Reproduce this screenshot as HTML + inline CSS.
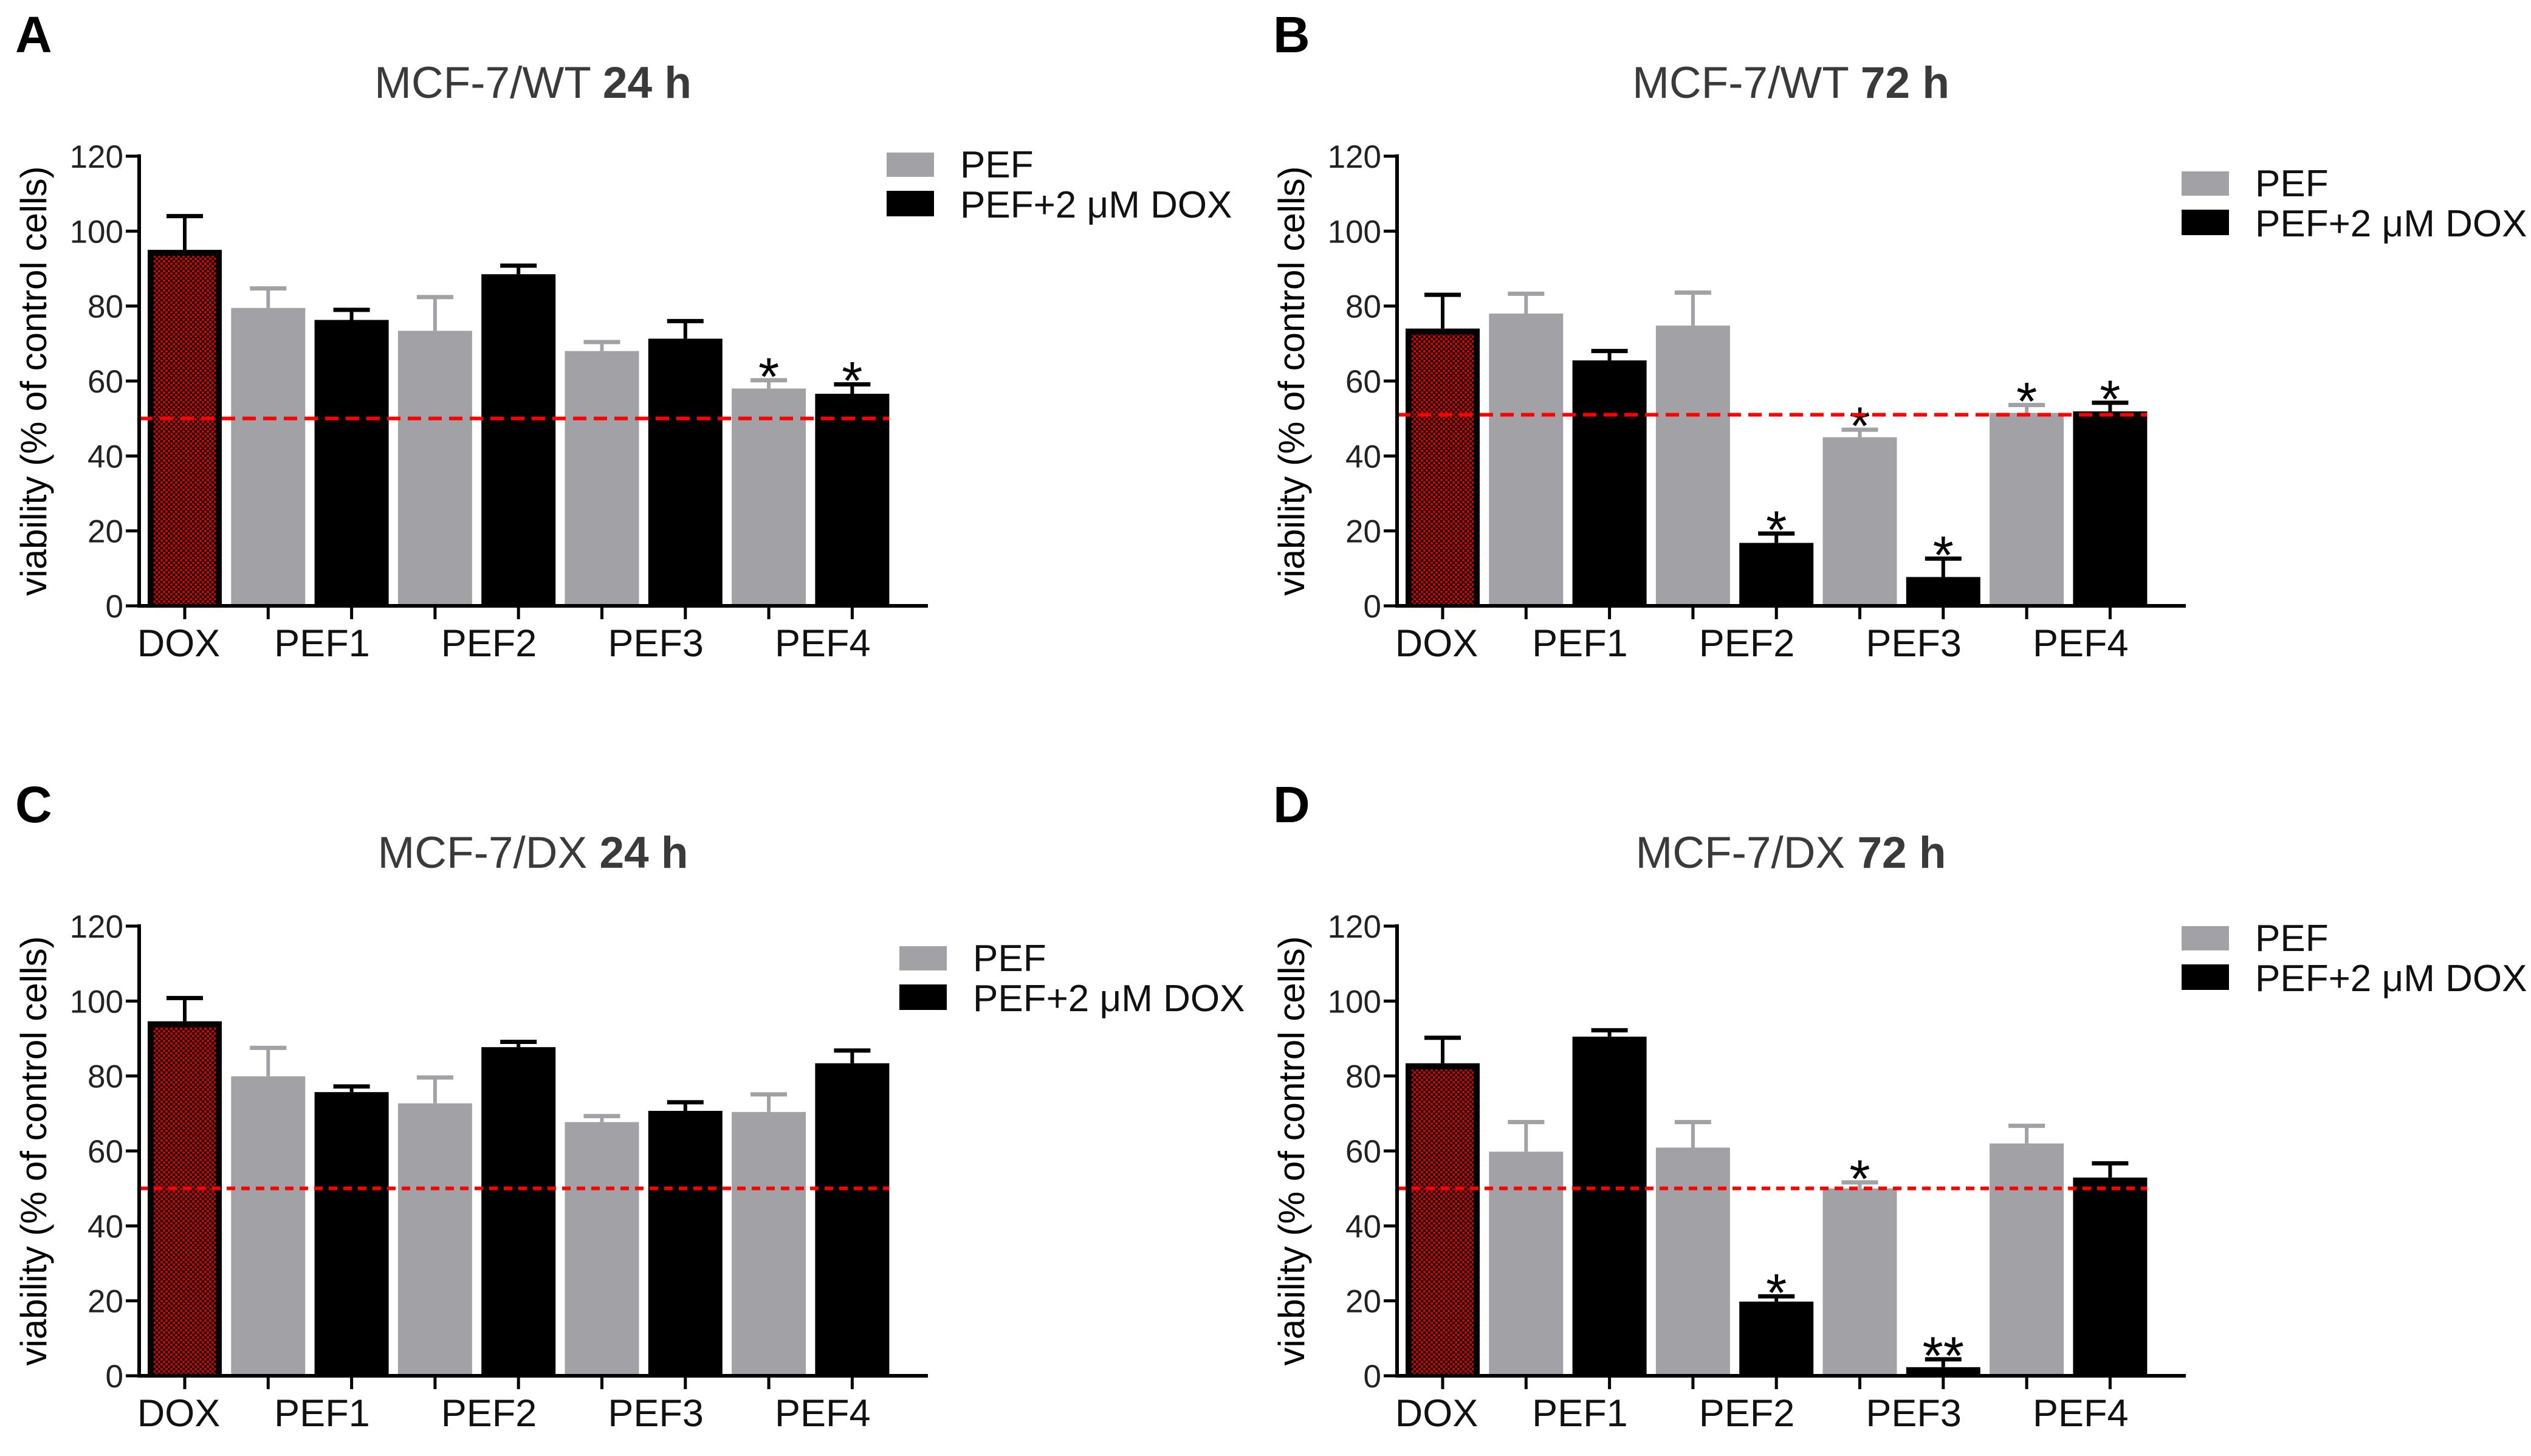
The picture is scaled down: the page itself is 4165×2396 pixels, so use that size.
<!DOCTYPE html>
<html><head><meta charset="utf-8"><style>
html,body{margin:0;padding:0;background:#fff;}
svg{display:block;font-family:"Liberation Sans",Arial,sans-serif;}
</style></head>
<body>
<svg id="fig" width="4165" height="2396" viewBox="0 0 4165 2396" xmlns="http://www.w3.org/2000/svg">
<defs>
<pattern id="chk" width="8" height="8" patternUnits="userSpaceOnUse">
<rect width="8" height="8" fill="#000"/>
<rect x="0" y="0" width="4" height="4" fill="#d00000"/>
<rect x="4" y="4" width="4" height="4" fill="#d00000"/>
</pattern>
</defs>
</svg>
<script>
// ---- data ----
const groups = ["DOX","PEF1","PEF2","PEF3","PEF4"];
const yTicks = [0,20,40,60,80,100,120];
const panelLetters = ["A","B","C","D"];
const panelTitles = ["MCF-7/WT","MCF-7/WT","MCF-7/DX","MCF-7/DX"];
const panelTimes = ["24 h","72 h","24 h","72 h"];
const doxValues = [95, 74, 94.6, 83.4];
const doxErrors = [9, 9, 6.2, 6.8];
const pefA = [79.5, 73.4, 68, 58];
const pefErrA = [5.2, 9, 2.4, 2.2];
const comboA = [76.3, 88.5, 71.3, 56.6];
const comboErrA = [2.7, 2.3, 4.7, 2.5];
const pefB = [78, 74.8, 45, 51.5];
const pefErrB = [5.3, 8.8, 2, 2.1];
const comboB = [65.5, 16.8, 7.7, 51.9];
const comboErrB = [2.5, 2.5, 4.9, 2.3];
const pefC = [79.9, 72.7, 67.7, 70.4];
const pefErrC = [7.6, 6.9, 1.6, 4.7];
const comboC = [75.7, 87.7, 70.7, 83.4];
const comboErrC = [1.5, 1.4, 2.3, 3.4];
const pefD = [59.8, 60.9, 50, 62];
const pefErrD = [7.9, 6.8, 1.6, 4.7];
const comboD = [90.5, 19.8, 2.3, 52.9];
const comboErrD = [1.7, 1.4, 2.1, 3.8];
const starsPef = [["","","","*"],["","","*","*"],["","","",""],["","","*",""]];
const starsCombo = [["","","","*"],["","*","*","*"],["","","",""],["","*","**",""]];
const starsDox = ["","","",""];
const thresholds = [50, 51, 50, 50];
const legendLabels = ["PEF","PEF+2 \u03bcM DOX"];

const pefSeries = [pefA,pefB,pefC,pefD];
const pefErrSeries = [pefErrA,pefErrB,pefErrC,pefErrD];
const comboSeries = [comboA,comboB,comboC,comboD];
const comboErrSeries = [comboErrA,comboErrB,comboErrC,comboErrD];

// ---- layout ----
const offs = [[0,0],[2070,0],[0,1267],[2070,1267]];
const legendPos = [[1459,251],[3590,282],[1480,1557],[3590,1524]];
const dashes = ["22 12","22 12","14 10","14 10"];
const GRAY = "#a2a1a6";
const NS = "http://www.w3.org/2000/svg";
const svg = document.getElementById('fig');

function mk(tag, attrs, parent, text){
  const e = document.createElementNS(NS, tag);
  for (const k in attrs) e.setAttribute(k, attrs[k]);
  if (text !== undefined) e.textContent = text;
  parent.appendChild(e);
  return e;
}

for (let p = 0; p < 4; p++){
  const ox = offs[p][0], oy = offs[p][1];
  const g = mk('g', {transform:`translate(${ox},${oy})`}, svg);
  
  

  const y0 = 997, y120 = 257, axX = 229, axEnd = 1527;
  const yS = v => y0 - (v/120)*(y0-y120);
  const slotX = i => 304 + i*137.3;
  const bw = 122;

  const L = mk('text',{x:25,y:86,'font-size':84,'font-weight':'bold',fill:'#000'},g,panelLetters[p]);
  
  
  const T = mk('text',{x:877,y:161,'font-size':73,'text-anchor':'middle',fill:'#3a3a3a'},g);
  
  
  mk('tspan',{},T,panelTitles[p]+' ');
  mk('tspan',{'font-weight':'bold'},T,panelTimes[p]);

  const YT = mk('text',{x:0,y:0,'font-size':60,'text-anchor':'middle',fill:'#000',transform:`translate(76,627) rotate(-90)`},g,'viability (% of control cells)');
  
  

  const bars = mk('g',{},g);
  
  
  function errBar(cx, v, e, col){
    const top = yS(v+e), yv = yS(v);
    const eb = mk('g',{},bars);
    
    
    mk('line',{x1:cx,x2:cx,y1:yv,y2:top,stroke:col,'stroke-width':6},eb);
    mk('line',{x1:cx-30,x2:cx+30,y1:top,y2:top,stroke:col,'stroke-width':7},eb);
    return top;
  }
  function star(cx, top, s){
    if (!s) return;
    const st = mk('text',{x:cx,y:top+24,'font-size':88,'text-anchor':'middle',fill:'#000'},bars,s);
    
    
  }
  {
    const cx = slotX(0), v = doxValues[p];
    const top = errBar(cx, v, doxErrors[p], '#000');
    const b = mk('rect',{x:cx-bw/2,y:yS(v),width:bw,height:y0-yS(v),fill:'#000'},bars);
    
    
    const h = y0-yS(v)-10;
    if (h>0){
      const f = mk('rect',{x:cx-bw/2+10,y:yS(v)+10,width:bw-20,height:h,fill:'url(#chk)'},bars);
      
      
    }
    star(cx, top, starsDox[p]);
  }
  for (let i = 0; i < 4; i++){
    const cg = slotX(1+2*i), cb = slotX(2+2*i);
    const vg = pefSeries[p][i], vb = comboSeries[p][i];
    const tg = errBar(cg, vg, pefErrSeries[p][i], GRAY);
    const r1 = mk('rect',{x:cg-bw/2,y:yS(vg),width:bw,height:y0-yS(vg),fill:GRAY},bars);
    
    
    const tb = errBar(cb, vb, comboErrSeries[p][i], '#000');
    const r2 = mk('rect',{x:cb-bw/2,y:yS(vb),width:bw,height:y0-yS(vb),fill:'#000'},bars);
    
    
    star(cg, tg, starsPef[p][i]);
    star(cb, tb, starsCombo[p][i]);
  }

  const ty = yS(thresholds[p]);
  const th = mk('line',{x1:axX,x2:slotX(8)+bw/2,y1:ty,y2:ty,stroke:'#ff0000','stroke-width':6,'stroke-dasharray':dashes[p]},g);
  
  

  const ax = mk('g',{},g);
  
  
  mk('line',{x1:axX,x2:axX,y1:y120-3,y2:y0+3,stroke:'#000','stroke-width':6},ax);
  mk('line',{x1:axX-3,x2:axEnd,y1:y0,y2:y0,stroke:'#000','stroke-width':6},ax);
  yTicks.forEach(t=>{
    const yy = yS(t);
    mk('line',{x1:axX-22,x2:axX,y1:yy,y2:yy,stroke:'#000','stroke-width':5},ax);
    const lb = mk('text',{x:axX-26,y:yy+19,'font-size':53,'text-anchor':'end',fill:'#222'},ax,String(t));
    
    
  });
  for (let i = 0; i < 9; i++){
    mk('line',{x1:slotX(i),x2:slotX(i),y1:y0,y2:y0+22,stroke:'#000','stroke-width':5},ax);
  }
  groups.forEach((gname, i)=>{
    const cx = i===0 ? slotX(0)-10 : (slotX(2*i-1)+slotX(2*i))/2 + 20;
    const lb = mk('text',{x:cx,y:1080,'font-size':63,'text-anchor':'middle',fill:'#111'},ax,gname);
    
    
  });

  const lx = legendPos[p][0]-ox, ly = legendPos[p][1]-oy;
  const lg = mk('g',{},g);
  
  
  const e1 = mk('g',{},lg);
  
  
  mk('rect',{x:lx,y:ly,width:78,height:40,fill:GRAY},e1);
  mk('text',{x:lx+121,y:ly+41,'font-size':62,fill:'#111'},e1,legendLabels[0]);
  const e2 = mk('g',{},lg);
  
  
  mk('rect',{x:lx,y:ly+63,width:78,height:42,fill:'#000'},e2);
  mk('text',{x:lx+121,y:ly+107,'font-size':62,fill:'#111'},e2,legendLabels[1]);
}
</script>
</body></html>
